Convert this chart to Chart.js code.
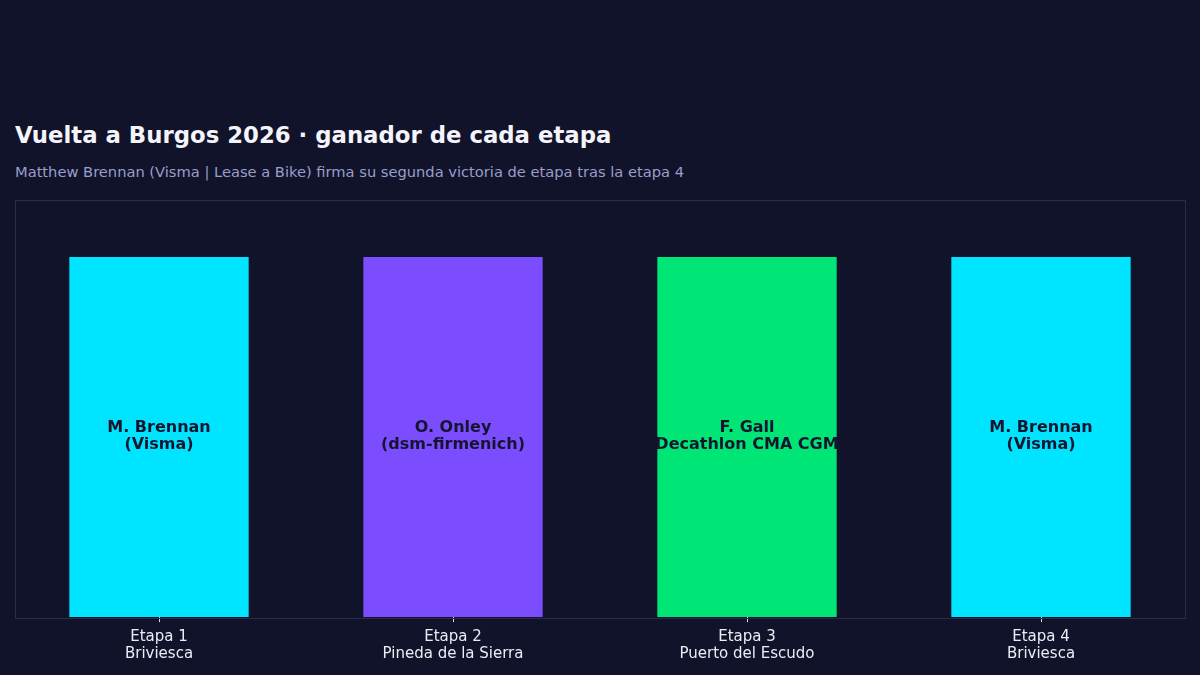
<!DOCTYPE html>
<html>
<head>
<meta charset="utf-8">
<script src="https://cdn.jsdelivr.net/npm/chart.js@4"></script>
<style>
  html, body { margin: 0; padding: 0; background: #10132a; }
  #wrap { position: relative; width: 1200px; height: 675px; font-family: "DejaVu Sans", sans-serif; }
  #title { position: absolute; left: 15px; top: 121px; line-height: 28px; font-size: 22.8px; font-weight: bold; color: #f4f4fa; white-space: nowrap; }
  #subtitle { position: absolute; left: 15px; top: 163px; line-height: 18px; font-size: 14.67px; color: #9b9dcb; white-space: nowrap; }
  canvas { position: absolute; left: 0; top: 0; }
</style>
</head>
<body>
<div id="wrap">
  <div id="title">Vuelta a Burgos 2026 · ganador de cada etapa</div>
  <div id="subtitle">Matthew Brennan (Visma | Lease a Bike) firma su segunda victoria de etapa tras la etapa 4</div>
  <canvas id="stageChart" width="1200" height="675"></canvas>
</div>
<script>
// Stage data
const stages = ['Etapa 1', 'Etapa 2', 'Etapa 3', 'Etapa 4'];
const towns = ['Briviesca', 'Pineda de la Sierra', 'Puerto del Escudo', 'Briviesca'];
const winners = ['M. Brennan', 'O. Onley', 'F. Gall', 'M. Brennan'];
const teams = ['(Visma)', '(dsm-firmenich)', 'Decathlon CMA CGM', '(Visma)'];
const wins = [1, 1, 1, 1];
const barColors = ['#00e5ff', '#7c4dff', '#00e676', '#00e5ff'];

const labels = stages.map((s, i) => [s, towns[i]]);

// box around the plot area
const frame = {
    id: 'frame',
    beforeDatasetsDraw(chart) {
        const c = chart.ctx;
        c.save();
        c.strokeStyle = '#2c2b4e';
        c.lineWidth = 1;
        c.strokeRect(15.5, 200.5, 1170, 418);
        c.restore();
    }
};

// winner names written inside each bar
const barText = {
    id: 'barText',
    afterDatasetsDraw(chart) {
        const c = chart.ctx;
        const meta = chart.getDatasetMeta(0);
        c.save();
        c.font = 'bold 16px "DejaVu Sans"';
        c.fillStyle = '#151530';
        c.textAlign = 'center';
        c.textBaseline = 'middle';
        meta.data.forEach((bar, i) => {
            const mid = (bar.y + bar.base) / 2;
            c.fillText(winners[i], bar.x, mid - 9);
            c.fillText(teams[i], bar.x, mid + 8);
        });
        c.restore();
    }
};

const ctx = document.getElementById('stageChart').getContext('2d');
new Chart(ctx, {
    type: 'bar',
    data: {
        labels: labels,
        datasets: [{
            data: wins,
            backgroundColor: barColors,
            borderWidth: 0,
            barPercentage: 0.61,
            categoryPercentage: 1
        }]
    },
    options: {
        responsive: false,
        animation: false,
        layout: { padding: { top: 200, left: 12, right: 12, bottom: 5 } },
        plugins: {
            legend: { display: false },
            tooltip: { enabled: false }
        },
        scales: {
            x: {
                grid: {
                    display: true,
                    offset: false,
                    drawOnChartArea: false,
                    tickLength: 5,
                    color: '#d8d8e6'
                },
                border: { display: false },
                ticks: {
                    color: '#ececf5',
                    font: { family: 'DejaVu Sans', size: 15, lineHeight: 1.13 },
                    padding: 7,
                    maxRotation: 0
                }
            },
            y: {
                display: false,
                min: 0,
                max: 1.158
            }
        }
    },
    plugins: [frame, barText]
});
</script>
</body>
</html>
